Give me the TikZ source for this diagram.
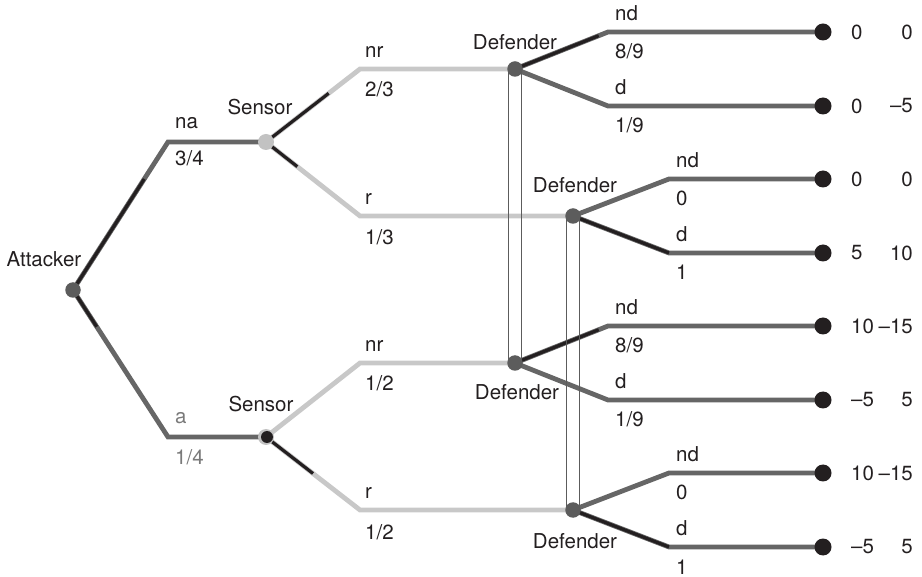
\documentclass[tikz,border=0pt]{standalone}
\usepackage{fontspec}
\setmainfont{TeX Gyre Heros}
\usetikzlibrary{calc,backgrounds}
\definecolor{ink}{HTML}{231F20}
\definecolor{branchgray}{HTML}{666666}
\definecolor{lightbranch}{HTML}{C8C8C8}
\definecolor{nodegray}{HTML}{5C5C5C}
\definecolor{sensorgray}{HTML}{C2C2C2}
\definecolor{labelgray}{HTML}{7A7A7A}
\pgfdeclarelayer{edges}
\pgfdeclarelayer{infosets}
\pgfsetlayers{edges,infosets,main}

\begin{document}
\begin{tikzpicture}[x=1pt,y=-1pt,
  every node/.style={font=\fontsize{20.5}{24}\selectfont, text=ink, inner sep=0pt},
  decision/.style={circle, fill=nodegray, minimum size=15.5pt},
  chance/.style={circle, fill=sensorgray, minimum size=16pt},
  leaf/.style={circle, fill=ink, minimum size=17pt},
  darkbranch/.style={draw=branchgray, line width=4.8pt},
  palebranch/.style={draw=lightbranch, line width=4.8pt},
  played/.style={draw=ink, line width=3.2pt},
  infoset/.style={draw=nodegray, line width=0.9pt},
  above label/.style={anchor=base west},
  below label/.style={anchor=base west},
  player/.style={anchor=base},
  payoff/.style={}
]
\useasboundingbox (0,0) rectangle (922,577);

% ---------------- decision and chance nodes ----------------
\node[decision] (A) at (73,290) {};
\node[chance] (S1) at (266,142) {};
\node[chance] (S2) at (266,437) {};
\fill[ink] ($(S2.center)+(1,0)$) circle (6pt);
\node[decision] (D1) at (515,69) {};
\node[decision] (D2) at (573,216) {};
\node[decision] (D3) at (515,363) {};
\node[decision] (D4) at (573,510) {};

% ---------------- terminal nodes ----------------
\foreach \i/\y in {1/32,2/106,3/179,4/253,5/326,6/400,7/473,8/547}
  \node[leaf] (T\i) at (823,\y) {};

% ---------------- bends of the branches ----------------
\coordinate (cna) at (168,142);
\coordinate (ca)  at (168,437);
\coordinate (cnr1) at (360,69);
\coordinate (cr1)  at (360,216);
\coordinate (cnr2) at (360,363);
\coordinate (cr2)  at (360,510);
\coordinate (c1) at (608,32);
\coordinate (c2) at (608,106);
\coordinate (c3) at (669,179);
\coordinate (c4) at (669,253);
\coordinate (c5) at (608,326);
\coordinate (c6) at (608,400);
\coordinate (c7) at (669,473);
\coordinate (c8) at (669,547);

\begin{pgfonlayer}{edges}
  % attacker
  \draw[darkbranch] (A.center) -- (cna) -- (S1.center);
  \draw[darkbranch] (A.center) -- (ca) -- (S2.center);
  % sensor reports
  \draw[palebranch] (S1.center) -- (cnr1) -- (D1.center);
  \draw[palebranch] (S1.center) -- (cr1) -- (D2.center);
  \draw[palebranch] (S2.center) -- (cnr2) -- (D3.center);
  \draw[palebranch] (S2.center) -- (cr2) -- (D4.center);
  % defender moves
  \draw[darkbranch] (D1.center) -- (c1) -- (T1.center);
  \draw[darkbranch] (D1.center) -- (c2) -- (T2.center);
  \draw[darkbranch] (D2.center) -- (c3) -- (T3.center);
  \draw[darkbranch] (D2.center) -- (c4) -- (T4.center);
  \draw[darkbranch] (D3.center) -- (c5) -- (T5.center);
  \draw[darkbranch] (D3.center) -- (c6) -- (T6.center);
  \draw[darkbranch] (D4.center) -- (c7) -- (T7.center);
  \draw[darkbranch] (D4.center) -- (c8) -- (T8.center);
  % probability of each move, marked from its node
  \draw[played] (A.center) -- ($(A.center)!0.75!(cna)$);
  \draw[played] (A.center) -- ($(A.center)!0.25!(ca)$);
  \draw[played] (S1.center) -- ($(S1.center)!0.667!(cnr1)$);
  \draw[played] (S1.center) -- ($(S1.center)!0.333!(cr1)$);
  \draw[played] (S2.center) -- ($(S2.center)!0.5!(cr2)$);
  \draw[played] (D1.center) -- ($(D1.center)!0.9!(c1)$);
  \draw[played] (D2.center) -- (c4);
  \draw[played] (D3.center) -- ($(D3.center)!0.9!(c5)$);
  \draw[played] (D4.center) -- (c8);
\end{pgfonlayer}

% ---------------- information sets ----------------
\begin{pgfonlayer}{infosets}
  \draw[infoset] ($(D1.center)+(-6.5,0)$) -- ($(D3.center)+(-6.5,0)$);
  \draw[infoset] ($(D1.center)+(6.8,0)$) -- ($(D3.center)+(6.8,0)$);
  \draw[infoset] ($(D2.center)+(-6.5,0)$) -- ($(D4.center)+(-6.5,0)$);
  \draw[infoset] ($(D2.center)+(6.8,0)$) -- ($(D4.center)+(6.8,0)$);
\end{pgfonlayer}

% ---------------- player names ----------------
\node[player] (nA)  at (44,267) {Attacker};
\node[player] (nS1) at (260,115) {Sensor};
\node[player] (nS2) at (261,412) {Sensor};
\node[player] (nD1) at (515,50) {Defender};
\node[player] (nD2) at (575,193) {Defender};
\node[player] (nD3) at (517,400) {Defender};
\node[player] (nD4) at (575,548) {Defender};

% ---------------- move names and probabilities ----------------
\node[above label] (lna) at ($(cna)+(7,-13)$) {na};
\node[below label] (pna) at ($(cna)+(7,24)$) {3/4};
\node[above label, text=labelgray] (la) at ($(ca)+(7,-13)$) {a};
\node[below label, text=labelgray] (pa) at ($(ca)+(7,28)$) {1/4};

\node[above label] (lnr1) at ($(cnr1)+(5,-11)$) {nr};
\node[below label] (pnr1) at ($(cnr1)+(5,28)$) {2/3};
\node[above label] (lr1)  at ($(cr1)+(5,-11)$) {r};
\node[below label] (pr1)  at ($(cr1)+(5,29)$) {1/3};
\node[above label] (lnr2) at ($(cnr2)+(5,-11)$) {nr};
\node[below label] (pnr2) at ($(cnr2)+(5,28)$) {1/2};
\node[above label] (lr2)  at ($(cr2)+(5,-11)$) {r};
\node[below label] (pr2)  at ($(cr2)+(5,29)$) {1/2};

\foreach \i/\m/\p in {1/nd/8\slash 9,2/d/1\slash 9,3/nd/0,4/d/1,5/nd/8\slash 9,6/d/1\slash 9,7/nd/0,8/d/1}{
  \node[above label] (lm\i) at ($(c\i)+(7,-11)$) {\m};
  \node[below label] (pm\i) at ($(c\i)+(7,27)$) {\p};
}

% ---------------- payoffs (attacker, defender) ----------------
\foreach \i/\u/\v in {1/0/0,2/0/–5,3/0/0,4/5/10,5/10/–15,6/–5/5,7/10/–15,8/–5/5}{
  \node[payoff, anchor=west] (ua\i) at ($(T\i.center)+(28,0)$) {\u};
  \node[payoff, anchor=east] (ud\i) at ($(T\i.center)+(90,0)$) {\v};
}
\end{tikzpicture}
\end{document}
